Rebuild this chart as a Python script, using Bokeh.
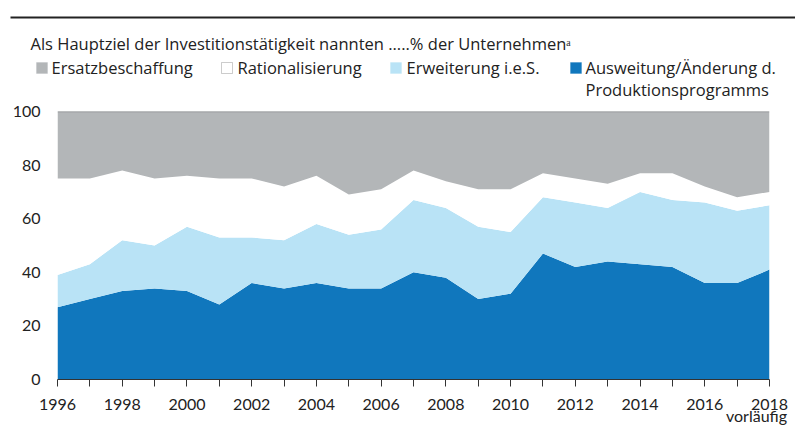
from bokeh.plotting import figure
from bokeh.models import (ColumnDataSource, Label, BoxAnnotation, Span,
                          FixedTicker, Range1d, LinearAxis)
from bokeh.layouts import column
from bokeh.embed import file_html
from bokeh.resources import INLINE

years = list(range(1996, 2019))
ausweitung = [27, 30, 33, 34, 33, 28, 36, 34, 36, 34, 34, 40, 38, 30, 32, 47, 42, 44, 43, 42, 36, 36, 41]
erweiterung = [12, 13, 19, 16, 24, 25, 17, 18, 22, 20, 22, 27, 26, 27, 23, 21, 24, 20, 27, 25, 30, 27, 24]
rationalisierung = [36, 32, 26, 25, 19, 22, 22, 20, 18, 15, 15, 11, 10, 14, 16, 9, 9, 9, 7, 10, 6, 5, 5]
ersatzbeschaffung = [25, 25, 22, 25, 24, 25, 25, 28, 24, 31, 29, 22, 26, 29, 29, 23, 25, 27, 23, 23, 28, 32, 30]

series_labels = ["Ersatzbeschaffung", "Rationalisierung", "Erweiterung i.e.S.",
                 "Ausweitung/Änderung d.", "Produktionsprogramms"]
title_text = "Als Hauptziel der Investitionstätigkeit nannten .....% der Unternehmenᵃ"
y_ticks = [0, 20, 40, 60, 80, 100]
x_label_years = [1996, 1998, 2000, 2002, 2004, 2006, 2008, 2010, 2012, 2014, 2016, 2018]
note_text = "vorläufig"

C_DARK = "#1077bd"
C_LIGHT = "#b9e3f6"
C_WHITE = "#ffffff"
C_GRAY = "#b3b6b8"
TXT = "#222222"
FONT = "Lato"
HFONT = "Open Sans"

# ---------------- header (title + legend) ----------------
W = 795
HEAD_H = 101
head = figure(width=W, height=HEAD_H, output_backend="svg", toolbar_location=None,
              x_range=Range1d(0, W), y_range=Range1d(HEAD_H, 0),
              x_axis_type=None, y_axis_type=None,
              min_border_left=0, min_border_right=0, min_border_top=0, min_border_bottom=0)
head.frame_align = False
head.outline_line_color = None
head.xgrid.visible = False
head.ygrid.visible = False

head.add_layout(BoxAnnotation(left=10, right=W, top=16, bottom=18,
                              fill_color="#222222", fill_alpha=1, line_color=None))

def lab(fig, x, y, text, size="16.5px", align="left", baseline="middle"):
    fig.add_layout(Label(x=x, y=y, text=text, text_font=HFONT, text_font_size=size,
                         text_color=TXT, text_align=align, text_baseline=baseline))

lab(head, 30, 43, title_text)

sq = [(36, C_GRAY, C_GRAY), (221, C_WHITE, "#555555"), (390, C_LIGHT, C_LIGHT), (570, C_DARK, C_DARK)]
tx = [51, 237, 406, 585]
for (x0, fc, lc), t, name in zip(sq, tx, series_labels[:4]):
    head.add_layout(BoxAnnotation(left=x0, right=x0 + 11, top=62, bottom=73,
                                  fill_color=fc, fill_alpha=1, line_color=lc, line_width=1))
    lab(head, t, 67, name)
lab(head, 585, 89, series_labels[4])

# ---------------- chart ----------------
src = ColumnDataSource(dict(year=years, aus=ausweitung, erw=erweiterung,
                            rat=rationalisierung, ers=ersatzbeschaffung))

p = figure(width=W, height=428 - HEAD_H, output_backend="svg", toolbar_location=None,
           x_range=Range1d(1996, 2018), y_range=Range1d(0, 100),
           min_border_left=57, min_border_right=26, min_border_top=111 - HEAD_H,
           min_border_bottom=49)
p.frame_align = False
p.outline_line_color = None
p.xgrid.visible = False
p.ygrid.visible = False

p.varea_stack(["aus", "erw", "rat", "ers"], x="year",
              color=[C_DARK, C_LIGHT, C_WHITE, C_GRAY], source=src)
p.add_layout(Span(location=100, dimension="width", line_color="#8a8d8f", line_width=1.5))

xa = p.xaxis[0]
xa.ticker = FixedTicker(ticks=years)
xa.major_label_overrides = {y: (str(y) if y in x_label_years else "") for y in years}
xa.axis_line_color = "#333333"
xa.axis_line_width = 1.2
xa.major_tick_line_color = "#333333"
xa.major_tick_in = 0
xa.major_tick_out = 7
xa.minor_tick_line_color = None
xa.major_label_text_font = FONT
xa.major_label_text_font_size = "16px"
xa.major_label_text_color = TXT
xa.major_label_standoff = 12

# second axis carrying the note under 2018
note_axis = LinearAxis(ticker=FixedTicker(ticks=[2017.6]),
                       major_label_overrides={2017.6: note_text},
                       axis_line_color=None, major_tick_line_color=None,
                       minor_tick_line_color=None, major_tick_in=0, major_tick_out=0,
                       major_label_standoff=-7, major_label_text_font=FONT,
                       major_label_text_font_size="16px", major_label_text_color=TXT)
p.add_layout(note_axis, "below")

ya = p.yaxis[0]
ya.ticker = FixedTicker(ticks=y_ticks)
ya.axis_line_color = None
ya.major_tick_line_color = None
ya.minor_tick_line_color = None
ya.major_tick_in = 0
ya.major_tick_out = 0
ya.major_label_text_font = FONT
ya.major_label_text_font_size = "16px"
ya.major_label_text_color = TXT
ya.major_label_standoff = 17

layout = column(head, p, spacing=0)
open("out.html", "w").write(file_html(layout, INLINE))
